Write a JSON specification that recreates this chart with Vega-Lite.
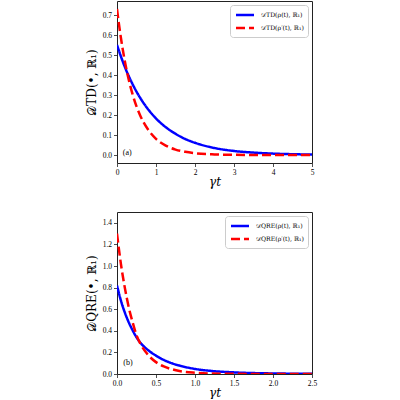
{
  "$schema": "https://vega.github.io/schema/vega-lite/v6.json",
  "background": "white",
  "padding": {"left": 84, "top": 0, "right": 5, "bottom": 0},
  "bounds": "flush",
  "spacing": 49,
  "config": {
    "view": {"stroke": "#222", "strokeWidth": 1},
    "axis": {
      "domain": false, "grid": false, "labelOverlap": false, "labelFlush": false, "labelBound": false, "labelSeparation": 0,
      "tickColor": "#222", "tickSize": 3.5, "tickWidth": 0.8,
      "labelFont": "Liberation Serif", "labelFontSize": 7.5, "labelColor": "#000", "labelPadding": 2,
      "titleFont": "DejaVu Serif", "titleFontWeight": "normal", "titleColor": "#000", "titleFontSize": 12
    },
    "axisX": {"titleY": 22, "titleBaseline": "alphabetic", "titleFontStyle": "italic"},
    "legend": {
      "orient": "top-right", "offset": 4, "title": null,
      "fillColor": "white", "strokeColor": "#ccc", "cornerRadius": 3, "padding": 4,
      "symbolType": "M-2,0H2", "symbolSize": 81, "symbolStrokeWidth": 2.5, "symbolOffset": 5, "labelOffset": 10,
      "labelFont": "DejaVu Serif", "labelFontSize": 6.2, "labelColor": "#000", "rowPadding": 2, "labelLimit": 200
    }
  },
  "datasets": {
    "td": [
      {"t": 0, "v": 0.55, "s": "ρ(t)"}, {"t": 0.1, "v": 0.493, "s": "ρ(t)"}, {"t": 0.2, "v": 0.441, "s": "ρ(t)"},
      {"t": 0.3, "v": 0.395, "s": "ρ(t)"}, {"t": 0.4, "v": 0.354, "s": "ρ(t)"}, {"t": 0.5, "v": 0.317, "s": "ρ(t)"},
      {"t": 0.6, "v": 0.284, "s": "ρ(t)"}, {"t": 0.8, "v": 0.228, "s": "ρ(t)"}, {"t": 1, "v": 0.183, "s": "ρ(t)"},
      {"t": 1.25, "v": 0.139, "s": "ρ(t)"}, {"t": 1.5, "v": 0.106, "s": "ρ(t)"}, {"t": 1.75, "v": 0.08, "s": "ρ(t)"},
      {"t": 2, "v": 0.061, "s": "ρ(t)"}, {"t": 2.5, "v": 0.035, "s": "ρ(t)"}, {"t": 3, "v": 0.02, "s": "ρ(t)"},
      {"t": 3.5, "v": 0.012, "s": "ρ(t)"}, {"t": 4, "v": 0.007, "s": "ρ(t)"}, {"t": 4.5, "v": 0.004, "s": "ρ(t)"},
      {"t": 5, "v": 0.002, "s": "ρ(t)"},
      {"t": 0, "v": 0.73, "s": "ρ′(t)"}, {"t": 0.05, "v": 0.654, "s": "ρ′(t)"}, {"t": 0.1, "v": 0.586, "s": "ρ′(t)"},
      {"t": 0.2, "v": 0.47, "s": "ρ′(t)"}, {"t": 0.3, "v": 0.377, "s": "ρ′(t)"}, {"t": 0.4, "v": 0.303, "s": "ρ′(t)"},
      {"t": 0.5, "v": 0.243, "s": "ρ′(t)"}, {"t": 0.6, "v": 0.195, "s": "ρ′(t)"}, {"t": 0.8, "v": 0.126, "s": "ρ′(t)"},
      {"t": 1, "v": 0.081, "s": "ρ′(t)"}, {"t": 1.25, "v": 0.047, "s": "ρ′(t)"}, {"t": 1.5, "v": 0.027, "s": "ρ′(t)"},
      {"t": 1.75, "v": 0.016, "s": "ρ′(t)"}, {"t": 2, "v": 0.009, "s": "ρ′(t)"}, {"t": 2.5, "v": 0.003, "s": "ρ′(t)"},
      {"t": 3, "v": 0.001, "s": "ρ′(t)"}, {"t": 3.5, "v": 0, "s": "ρ′(t)"}, {"t": 4, "v": 0, "s": "ρ′(t)"},
      {"t": 4.5, "v": 0, "s": "ρ′(t)"}, {"t": 5, "v": 0, "s": "ρ′(t)"}
    ],
    "qre": [
      {"t": 0, "v": 0.82, "s": "ρ(t)"}, {"t": 0.05, "v": 0.68, "s": "ρ(t)"}, {"t": 0.1, "v": 0.57, "s": "ρ(t)"},
      {"t": 0.15, "v": 0.48, "s": "ρ(t)"}, {"t": 0.2, "v": 0.405, "s": "ρ(t)"}, {"t": 0.25, "v": 0.34, "s": "ρ(t)"},
      {"t": 0.3, "v": 0.29, "s": "ρ(t)"}, {"t": 0.4, "v": 0.22, "s": "ρ(t)"}, {"t": 0.5, "v": 0.17, "s": "ρ(t)"},
      {"t": 0.6, "v": 0.13, "s": "ρ(t)"}, {"t": 0.7, "v": 0.1, "s": "ρ(t)"}, {"t": 0.8, "v": 0.078, "s": "ρ(t)"},
      {"t": 1, "v": 0.047, "s": "ρ(t)"}, {"t": 1.2, "v": 0.029, "s": "ρ(t)"}, {"t": 1.5, "v": 0.015, "s": "ρ(t)"},
      {"t": 2, "v": 0.005, "s": "ρ(t)"}, {"t": 2.5, "v": 0.002, "s": "ρ(t)"},
      {"t": 0, "v": 1.3, "s": "ρ′(t)"}, {"t": 0.05, "v": 1.02, "s": "ρ′(t)"}, {"t": 0.1, "v": 0.8, "s": "ρ′(t)"},
      {"t": 0.15, "v": 0.62, "s": "ρ′(t)"}, {"t": 0.2, "v": 0.48, "s": "ρ′(t)"}, {"t": 0.25, "v": 0.36, "s": "ρ′(t)"},
      {"t": 0.3, "v": 0.28, "s": "ρ′(t)"}, {"t": 0.4, "v": 0.175, "s": "ρ′(t)"}, {"t": 0.5, "v": 0.11, "s": "ρ′(t)"},
      {"t": 0.6, "v": 0.07, "s": "ρ′(t)"}, {"t": 0.7, "v": 0.045, "s": "ρ′(t)"}, {"t": 0.8, "v": 0.028, "s": "ρ′(t)"},
      {"t": 1, "v": 0.012, "s": "ρ′(t)"}, {"t": 1.2, "v": 0.005, "s": "ρ′(t)"}, {"t": 1.5, "v": 0.002, "s": "ρ′(t)"},
      {"t": 2, "v": 0, "s": "ρ′(t)"}, {"t": 2.5, "v": 0, "s": "ρ′(t)"}
    ]
  },
  "resolve": {"scale": {"color": "independent", "strokeDash": "independent"}},
  "vconcat": [
    {
      "width": 195, "height": 162,
      "layer": [
        {
          "data": {"name": "td"},
          "mark": {"type": "line", "strokeWidth": 2.5, "interpolate": "monotone", "clip": true},
          "encoding": {
            "x": {"field": "t", "type": "quantitative", "scale": {"domain": [0, 5], "nice": false},
                  "axis": {"title": "γt", "tickCount": 5, "format": "d"}},
            "y": {"field": "v", "type": "quantitative", "scale": {"domain": [-0.04, 0.77], "nice": false, "zero": false},
                  "axis": {"title": "𝒟TD(•, ℝ₁)", "tickCount": 8, "labelExpr": "format(abs(datum.value), '.1f')", "titlePadding": 4}},
            "color": {"field": "s", "type": "nominal", "scale": {"domain": ["ρ(t)", "ρ′(t)"], "range": ["#0000ff", "#ff0000"]},
                      "legend": {"labelExpr": "'𝒟TD(' + datum.label + ', ℝ₁)'"}},
            "strokeDash": {"field": "s", "type": "nominal", "scale": {"domain": ["ρ(t)", "ρ′(t)"], "range": [[1, 0], [9, 4]]},
                           "legend": {"labelExpr": "'𝒟TD(' + datum.label + ', ℝ₁)'"}}
          }
        },
        {
          "data": {"values": [{"t": 0.15, "v": 0.01, "label": "(a)"}]},
          "mark": {"type": "text", "align": "left", "baseline": "middle", "font": "Liberation Serif", "fontSize": 8, "color": "#000"},
          "encoding": {
            "x": {"field": "t", "type": "quantitative"},
            "y": {"field": "v", "type": "quantitative"},
            "text": {"field": "label"}
          }
        }
      ]
    },
    {
      "width": 195, "height": 162,
      "layer": [
        {
          "data": {"name": "qre"},
          "mark": {"type": "line", "strokeWidth": 2.5, "interpolate": "monotone", "clip": true},
          "encoding": {
            "x": {"field": "t", "type": "quantitative", "scale": {"domain": [0, 2.5], "nice": false},
                  "axis": {"title": "γt", "tickCount": 5, "format": ".1f"}},
            "y": {"field": "v", "type": "quantitative", "scale": {"domain": [0, 1.5], "nice": false},
                  "axis": {"title": "𝒟QRE(•, ℝ₁)", "tickCount": 8, "format": ".1f", "titlePadding": 4}},
            "color": {"field": "s", "type": "nominal", "scale": {"domain": ["ρ(t)", "ρ′(t)"], "range": ["#0000ff", "#ff0000"]},
                      "legend": {"labelExpr": "'𝒟QRE(' + datum.label + ', ℝ₁)'"}},
            "strokeDash": {"field": "s", "type": "nominal", "scale": {"domain": ["ρ(t)", "ρ′(t)"], "range": [[1, 0], [9, 4]]},
                           "legend": {"labelExpr": "'𝒟QRE(' + datum.label + ', ℝ₁)'"}}
          }
        },
        {
          "data": {"values": [{"t": 0.08, "v": 0.1, "label": "(b)"}]},
          "mark": {"type": "text", "align": "left", "baseline": "middle", "font": "Liberation Serif", "fontSize": 8, "color": "#000"},
          "encoding": {
            "x": {"field": "t", "type": "quantitative"},
            "y": {"field": "v", "type": "quantitative"},
            "text": {"field": "label"}
          }
        }
      ]
    }
  ]
}
